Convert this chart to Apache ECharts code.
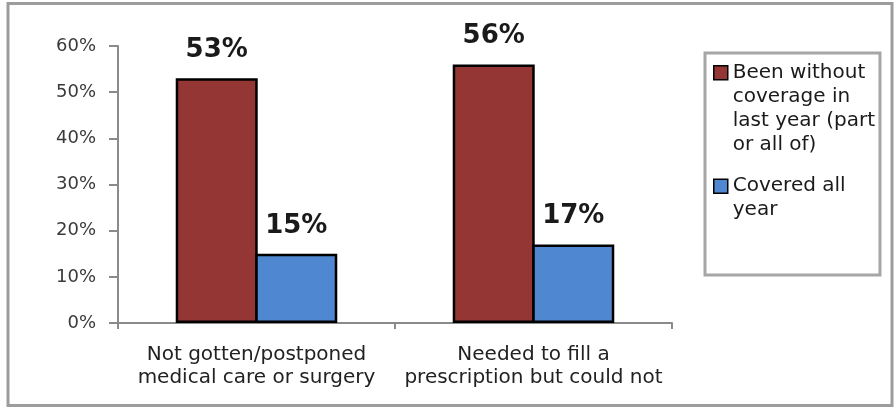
<!DOCTYPE html>
<html>
<head>
<meta charset="utf-8">
<script src="https://cdn.jsdelivr.net/npm/echarts@6/dist/echarts.min.js"></script>
<style>
  html, body { margin: 0; padding: 0; background: #ffffff; }
  #chart { width: 895px; height: 408px; }
</style>
</head>
<body>
<div id="chart"></div>
<script>
// ---- data ----
var categories = ['Not gotten/postponed\nmedical care or surgery', 'Needed to fill a\nprescription but could not'];
var seriesNames = ['Been without coverage in last year (part or all of)', 'Covered all year'];
var legendLabels = ['Been without\ncoverage in\nlast year (part\nor all of)', 'Covered all\nyear'];
var withoutCoverage = [53, 56];
var coveredAllYear = [15, 17];
var yTicks = [0, 10, 20, 30, 40, 50, 60];

// ---- styles ----
var RED = '#943634';
var BLUE = '#4f88d0';
var AXIS = '#8a8a8a';
var FONT = 'DejaVu Sans';

var chart = echarts.init(document.getElementById('chart'), null, { renderer: 'canvas' });

function barSeries(name, values, color) {
  return {
    name: name,
    type: 'bar',
    data: values,
    barWidth: 82,
    barGap: '-3%',
    itemStyle: { color: color, borderColor: '#000000', borderWidth: 2.5 },
    label: {
      show: true,
      position: 'top',
      distance: 15,
      formatter: '{c}%',
      fontFamily: FONT,
      fontWeight: 'bold',
      fontSize: 26,
      color: '#1a1a1a'
    }
  };
}

var option = {
  animation: false,
  backgroundColor: '#ffffff',
  textStyle: { fontFamily: FONT },
  graphic: [{
    type: 'rect',
    shape: { x: 8, y: 3.5, width: 884, height: 402 },
    style: { fill: 'none', stroke: '#9c9c9c', lineWidth: 3 },
    silent: true
  }],
  grid: { left: 118, right: 223, top: 46, bottom: 85 },
  legend: {
    orient: 'vertical',
    left: 705,
    top: 53,
    padding: [7, 5, 28, 8],
    itemGap: -8,
    itemWidth: 14,
    itemHeight: 96,
    borderColor: '#a6a6a6',
    borderWidth: 3,
    backgroundColor: '#ffffff',
    itemStyle: { borderColor: '#000000', borderWidth: 1.5 },
    textStyle: { fontFamily: FONT, fontSize: 20, lineHeight: 24, color: '#1a1a1a' },
    formatter: function (name) { return legendLabels[seriesNames.indexOf(name)]; },
    data: [
      { name: seriesNames[0], icon: 'path://M0,0M0,5H14V19H0ZM14,96' },
      { name: seriesNames[1], icon: 'path://M0,0M0,29H14V43H0ZM14,96' }
    ]
  },
  xAxis: {
    type: 'category',
    data: categories,
    axisLine: { show: true, lineStyle: { color: AXIS, width: 2 } },
    axisTick: { show: true, length: 6, lineStyle: { color: AXIS, width: 2 } },
    axisLabel: { interval: 0, margin: 20, fontFamily: FONT, fontSize: 20, lineHeight: 23, color: '#222222' },
    splitLine: { show: false }
  },
  yAxis: {
    type: 'value',
    min: yTicks[0],
    max: yTicks[yTicks.length - 1],
    interval: yTicks[1] - yTicks[0],
    axisLine: { show: true, lineStyle: { color: AXIS, width: 2 } },
    axisTick: { show: true, length: 9, lineStyle: { color: AXIS, width: 2 } },
    axisLabel: { margin: 22, fontFamily: FONT, fontSize: 18, color: '#3a3a3a', formatter: '{value}%' },
    splitLine: { show: false }
  },
  series: [
    barSeries(seriesNames[0], withoutCoverage, RED),
    barSeries(seriesNames[1], coveredAllYear, BLUE)
  ]
};

chart.setOption(option);
</script>
</body>
</html>
